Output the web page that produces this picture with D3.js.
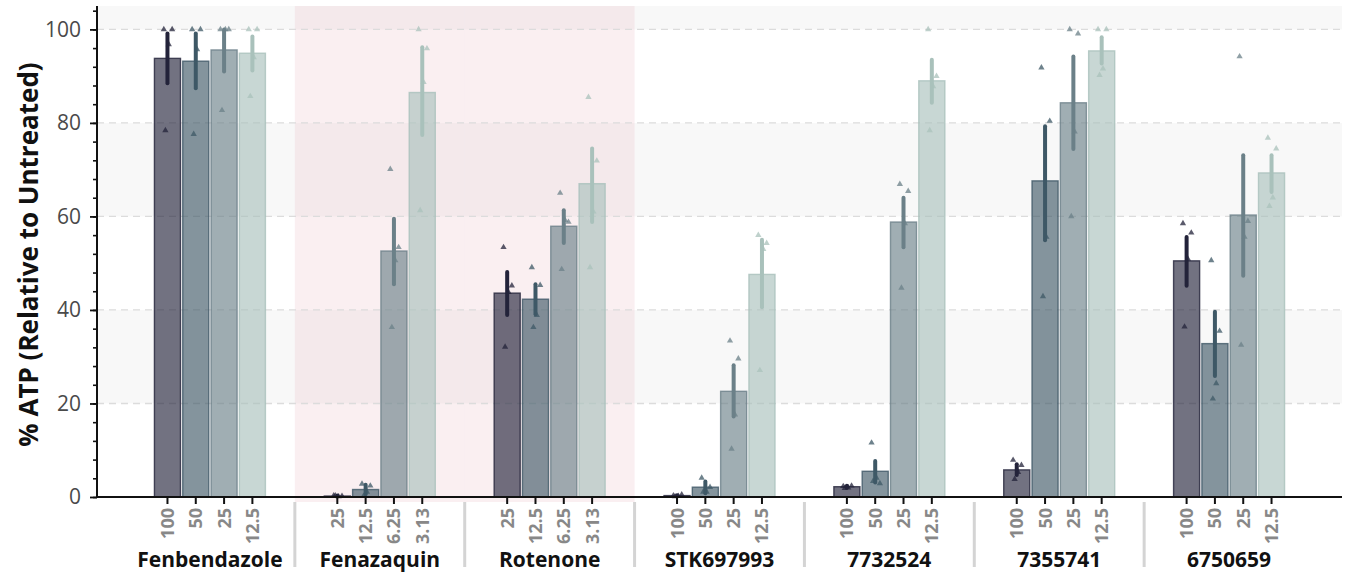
<!DOCTYPE html>
<html lang="en">
<head>
  <meta charset="UTF-8" />
  <title>% ATP relative to untreated</title>
  <script src="https://d3js.org/d3.v7.min.js"></script>
  <style>
    body { margin: 0; padding: 0; background: white; }
    svg { display: block; }
    text { font-family: "Open Sans", "DejaVu Sans", sans-serif; }
  </style>
</head>
<body>
  <svg id="chart" width="1346" height="577"></svg>

  <script>
    // compounds and their concentrations (tick labels)
    const groups = ["Fenbendazole", "Fenazaquin", "Rotenone", "STK697993", "7732524", "7355741", "6750659"];
    const concLabels = [
      ["100", "50", "25", "12.5"],
      ["25", "12.5", "6.25", "3.13"],
      ["25", "12.5", "6.25", "3.13"],
      ["100", "50", "25", "12.5"],
      ["100", "50", "25", "12.5"],
      ["100", "50", "25", "12.5"],
      ["100", "50", "25", "12.5"]
    ];
    const controlGroups = ["Fenazaquin", "Rotenone"];

    // bar heights (mean % ATP)
    const means = [
      [93.8, 93.2, 95.6, 94.9],
      [0.2, 1.6, 52.6, 86.5],
      [43.6, 42.3, 57.9, 67.0],
      [0.3, 2.1, 22.6, 47.6],
      [2.2, 5.5, 58.8, 89.0],
      [5.8, 67.6, 84.3, 95.4],
      [50.5, 32.8, 60.3, 69.3]
    ];

    // error bar extents [low, high]
    const errs = [
      [[88.5, 99.1], [87.4, 99.1], [91.0, 100], [91.2, 98.5]],
      [[0.1, 0.3], [0.6, 2.6], [45.5, 59.5], [77.4, 96.2]],
      [[38.9, 48.1], [39.1, 45.5], [54.3, 61.3], [58.8, 74.5]],
      [[0.1, 0.4], [0.8, 3.3], [17.2, 28.2], [40.6, 55.0]],
      [[2.0, 2.4], [3.1, 7.7], [53.4, 64.0], [84.3, 93.5]],
      [[4.7, 7.0], [54.9, 79.3], [74.4, 94.2], [92.7, 98.3]],
      [[45.2, 55.6], [25.9, 39.6], [47.3, 73.1], [65.2, 73.1]]
    ];

    // individual replicates
    const reps = [
      [[100, 100, 96.8, 78.4], [100, 100, 95.7, 77.6], [100, 100, 100, 82.7], [100, 100, 94.0, 85.7]],
      [[0.3, 0.2, 0.1, 0.3], [2.8, 2.4, 1.1, 0.2], [70.1, 53.4, 50.6, 36.3], [100, 95.9, 88.7, 61.3]],
      [[53.4, 45.2, 43.8, 32.1], [49.1, 45.3, 38.9, 36.3], [65.0, 58.8, 59.2, 48.7], [85.5, 71.9, 61.0, 49.1]],
      [[0.3, 0.5, 0.2, 0.1], [4.1, 2.1, 1.1, 1.1], [33.4, 29.6, 17.6, 10.3], [56.0, 54.3, 53.0, 27.1]],
      [[2.3, 2.4, 2.0, 1.9], [11.6, 2.9, 4.1, 3.4], [66.9, 65.4, 58.5, 44.7], [100, 90.0, 87.8, 78.4]],
      [[7.9, 6.8, 5.3, 3.8], [91.8, 80.4, 55.6, 42.9], [100, 99.1, 78.1, 60.0], [100, 100, 91.6, 90.2]],
      [[58.5, 56.5, 50.9, 36.4], [50.6, 35.5, 24.3, 21.0], [94.2, 59.0, 55.6, 32.5], [76.8, 74.5, 64.0, 62.2]]
    ];

    const colors = ["#23233a", "#3e5866", "#6b8088", "#a9c1bb"];
    const jitter = [-0.14, 0.18, 0.05, -0.08];

    const svg = d3.select("#chart");
    const plotLeft = 97, plotRight = 1342, plotTop = 6, plotBottom = 497;

    const x0 = d3.scaleBand()
      .domain(groups)
      .range([plotLeft + 28, plotRight - 28])
      .padding(0);

    const x1 = d3.scaleBand()
      .domain([0, 1, 2, 3])
      .range([0, x0.bandwidth()])
      .paddingOuter(1)
      .paddingInner(0);

    const y = d3.scaleLinear()
      .domain([0, 105])
      .range([plotBottom, plotTop]);

    const barW = x1.bandwidth() * 0.92;
    const cx = (gi, ci) => x0(groups[gi]) + x1(ci) + x1.bandwidth() / 2;

    // background bands
    const bandTicks = d3.range(0, 101, 20);
    svg.append("g").selectAll("rect")
      .data(bandTicks.filter((d, i) => i % 2 === 1))
      .join("rect")
      .attr("x", plotLeft)
      .attr("width", plotRight - plotLeft)
      .attr("y", d => y(Math.min(d + 20, 105)))
      .attr("height", d => y(d) - y(Math.min(d + 20, 105)))
      .attr("fill", "#f8f8f8");

    // control compounds shading
    svg.append("g").selectAll("rect")
      .data(controlGroups)
      .join("rect")
      .attr("x", d => x0(d))
      .attr("width", x0.step())
      .attr("y", plotTop)
      .attr("height", plotBottom + 5 - plotTop)
      .attr("fill", "#e6b8bd")
      .attr("opacity", 0.22);

    // dashed grid
    svg.append("g").selectAll("line")
      .data(bandTicks.slice(1))
      .join("line")
      .attr("x1", plotLeft).attr("x2", plotRight)
      .attr("y1", d => y(d)).attr("y2", d => y(d))
      .attr("stroke", "#dcdcdc")
      .attr("stroke-width", 1.3)
      .attr("stroke-dasharray", "7,5");

    // flat list of cells
    const cells = [];
    groups.forEach((g, gi) => {
      means[gi].forEach((m, ci) => {
        cells.push({ gi, ci, mean: m, err: errs[gi][ci], reps: reps[gi][ci] });
      });
    });

    // bars
    svg.append("g").selectAll("rect")
      .data(cells)
      .join("rect")
      .attr("x", d => cx(d.gi, d.ci) - barW / 2)
      .attr("width", barW)
      .attr("y", d => y(d.mean))
      .attr("height", d => y(0) - y(d.mean))
      .attr("fill", d => colors[d.ci])
      .attr("fill-opacity", 0.64)
      .attr("stroke", d => colors[d.ci])
      .attr("stroke-opacity", 0.8)
      .attr("stroke-width", 1.4);

    // replicate points
    const tri = d3.symbol().type(d3.symbolTriangle).size(17);
    const pts = [];
    cells.forEach(c => c.reps.forEach((v, k) => pts.push({ ...c, v, k })));
    svg.append("g").selectAll("path")
      .data(pts)
      .join("path")
      .attr("d", tri)
      .attr("transform", d => `translate(${cx(d.gi, d.ci) + jitter[d.k] * barW},${y(d.v)})`)
      .attr("fill", d => colors[d.ci])
      .attr("opacity", 0.75);

    // error bars
    svg.append("g").selectAll("line")
      .data(cells)
      .join("line")
      .attr("x1", d => cx(d.gi, d.ci)).attr("x2", d => cx(d.gi, d.ci))
      .attr("y1", d => y(d.err[0])).attr("y2", d => y(d.err[1]))
      .attr("stroke", d => colors[d.ci])
      .attr("stroke-width", 4)
      .attr("stroke-linecap", "round");

    // y axis
    const yMinor = svg.append("g").attr("transform", `translate(${plotLeft},0)`)
      .call(d3.axisLeft(y).tickValues(d3.range(0, 105, 4)).tickSize(4).tickFormat(""));
    yMinor.select(".domain").remove();
    yMinor.selectAll("line").attr("stroke", "#111").attr("stroke-width", 1.6);
    const yMajor = svg.append("g").attr("transform", `translate(${plotLeft},0)`)
      .call(d3.axisLeft(y).tickValues(bandTicks).tickSize(7).tickPadding(9));
    yMajor.select(".domain").remove();
    yMajor.selectAll("line").attr("stroke", "#111").attr("stroke-width", 1.8);
    yMajor.selectAll("text")
      .attr("font-size", 21)
      .attr("fill", "#4a4a4a")
      .style("font-family", "'Open Sans', sans-serif");

    svg.append("line")
      .attr("x1", plotLeft).attr("x2", plotLeft)
      .attr("y1", plotTop).attr("y2", plotBottom)
      .attr("stroke", "#111").attr("stroke-width", 2);

    // x axis line + ticks
    svg.append("line")
      .attr("x1", plotLeft).attr("x2", plotRight)
      .attr("y1", plotBottom).attr("y2", plotBottom)
      .attr("stroke", "#111").attr("stroke-width", 2);

    svg.append("g").selectAll("line")
      .data(cells)
      .join("line")
      .attr("x1", d => cx(d.gi, d.ci)).attr("x2", d => cx(d.gi, d.ci))
      .attr("y1", plotBottom).attr("y2", plotBottom + 7)
      .attr("stroke", "#111").attr("stroke-width", 2);

    svg.append("g").selectAll("text")
      .data(cells)
      .join("text")
      .attr("transform", d => `translate(${cx(d.gi, d.ci) + 6.5},${plotBottom + 11}) rotate(-90)`)
      .attr("text-anchor", "end")
      .attr("font-size", 18)
      .attr("font-weight", 700)
      .attr("fill", "#888")
      .text(d => concLabels[d.gi][d.ci]);

    // separators between compounds
    svg.append("g").selectAll("line")
      .data(groups.slice(1))
      .join("line")
      .attr("x1", d => x0(d)).attr("x2", d => x0(d))
      .attr("y1", plotBottom + 5).attr("y2", 567)
      .attr("stroke", "#d4d4d4")
      .attr("stroke-width", 3);

    // compound names
    svg.append("g").selectAll("text")
      .data(groups)
      .join("text")
      .attr("x", d => x0(d) + x0.bandwidth() / 2)
      .attr("y", 567)
      .attr("text-anchor", "middle")
      .attr("font-size", 21)
      .attr("font-weight", 700)
      .attr("fill", "#111")
      .text(d => d);

    // y title
    svg.append("text")
      .attr("transform", `translate(38,${(plotTop + plotBottom) / 2 + 3}) rotate(-90)`)
      .attr("text-anchor", "middle")
      .attr("font-size", 26)
      .attr("font-weight", 700)
      .attr("fill", "#111")
      .text("% ATP (Relative to Untreated)");
  </script>
</body>
</html>
